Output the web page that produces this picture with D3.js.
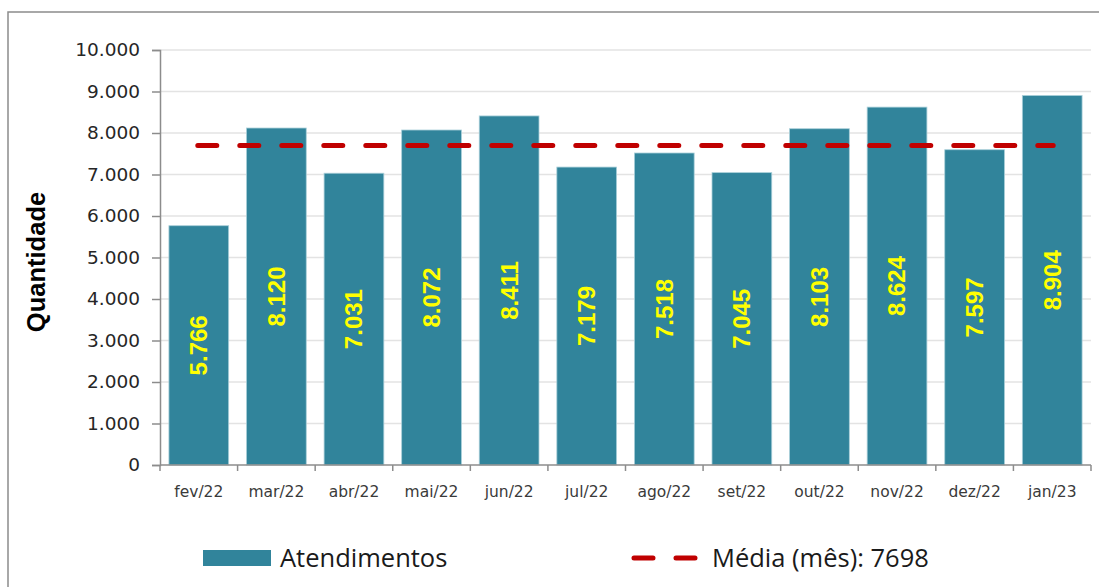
<!DOCTYPE html>
<html>
<head>
<meta charset="utf-8">
<script src="https://cdn.jsdelivr.net/npm/d3@7"></script>
<style>
  body { margin: 0; background: #fff; overflow: hidden; }
  svg { display: block; }
</style>
</head>
<body>
<div id="chart"></div>
<script>
/* data */
const months = ['fev/22', 'mar/22', 'abr/22', 'mai/22', 'jun/22', 'jul/22',
  'ago/22', 'set/22', 'out/22', 'nov/22', 'dez/22', 'jan/23']
const atendimentos = [5766, 8120, 7031, 8072, 8411, 7179, 7518, 7045, 8103, 8624, 7597, 8904]
const media = 7698
const yTicks = [0, 1000, 2000, 3000, 4000, 5000, 6000, 7000, 8000, 9000, 10000]
const legendLabels = ['Atendimentos', 'Média (mês): 7698']

/* dimensions */
const W = 1099
const H = 587
const plot = { left: 160, right: 1091, top: 50, bottom: 465 }

const barColor = '#31849b'
const lineColor = '#c00000'

const ptBR = d3.formatLocale({ decimal: ',', thousands: '.', grouping: [3], currency: ['R$', ''] })
const fmt = ptBR.format(',d')

const svg = d3.select('#chart').append('svg')
  .attr('width', W).attr('height', H)

/* outer frame (runs off the right and bottom edges) */
svg.append('rect')
  .attr('x', 8).attr('y', 12)
  .attr('width', W + 20).attr('height', H + 20)
  .attr('fill', '#fff')
  .attr('stroke', '#8c8c8c').attr('stroke-width', 1.5)

/* scales */
const x = d3.scaleBand()
  .domain(months)
  .range([plot.left, plot.right])
  .paddingInner(0.23).paddingOuter(0.115)

const xBand = d3.scaleBand().domain(months).range([plot.left, plot.right])

const y = d3.scaleLinear().domain([0, 10000]).range([plot.bottom, plot.top])

/* gridlines */
svg.append('g')
  .selectAll('line')
  .data(yTicks.filter(d => d > 0))
  .join('line')
  .attr('x1', plot.left).attr('x2', plot.right)
  .attr('y1', d => y(d)).attr('y2', d => y(d))
  .attr('stroke', '#e3e3e3').attr('stroke-width', 1.5)

/* bars */
svg.append('g')
  .selectAll('rect')
  .data(atendimentos)
  .join('rect')
  .attr('x', (d, i) => x(months[i]))
  .attr('width', x.bandwidth())
  .attr('y', d => y(d))
  .attr('height', d => y(0) - y(d))
  .attr('fill', barColor)
  .attr('stroke', '#a9cfd9').attr('stroke-width', 0.8)

/* average line */
svg.append('line')
  .attr('x1', xBand(months[0]) + xBand.bandwidth() / 2 - 1)
  .attr('x2', xBand(months[months.length - 1]) + xBand.bandwidth() / 2 + 1)
  .attr('y1', y(media)).attr('y2', y(media))
  .attr('stroke', lineColor).attr('stroke-width', 5)
  .attr('stroke-linecap', 'round')
  .attr('stroke-dasharray', '19,23')

/* y axis */
const yAxis = d3.axisLeft(y)
  .tickValues(yTicks)
  .tickSize(8)
  .tickPadding(12)
  .tickFormat(fmt)

svg.append('g')
  .attr('transform', `translate(${plot.left},0)`)
  .call(yAxis)
  .call(g => g.select('.domain').attr('stroke', '#8c8c8c').attr('stroke-width', 1.5))
  .call(g => g.selectAll('.tick line').attr('stroke', '#8c8c8c').attr('stroke-width', 1.5))
  .call(g => g.selectAll('.tick text')
    .attr('font-family', 'DejaVu Sans').attr('font-size', 18.5)
    .attr('fill', '#262626'))

/* x axis: ticks at band boundaries */
svg.append('g')
  .attr('transform', `translate(0,${plot.bottom})`)
  .call(d3.axisBottom(xBand).tickSize(0).tickPadding(21))
  .call(g => g.select('.domain').remove())
  .call(g => g.selectAll('.tick text')
    .attr('font-family', 'DejaVu Sans').attr('font-size', 15.5)
    .attr('fill', '#3a3a3a'))

const xEdges = months.map(m => xBand(m)).concat([plot.right])
svg.append('g')
  .selectAll('line')
  .data(xEdges)
  .join('line')
  .attr('x1', d => d).attr('x2', d => d)
  .attr('y1', plot.bottom).attr('y2', plot.bottom + 6)
  .attr('stroke', '#8c8c8c').attr('stroke-width', 1.5)

svg.append('line')
  .attr('x1', plot.left).attr('x2', plot.right)
  .attr('y1', plot.bottom).attr('y2', plot.bottom)
  .attr('stroke', '#8c8c8c').attr('stroke-width', 1.5)

/* data labels, rotated, centred in each bar */
svg.append('g')
  .selectAll('text')
  .data(atendimentos)
  .join('text')
  .attr('transform', (d, i) =>
    `translate(${x(months[i]) + x.bandwidth() / 2},${(y(d) + y(0)) / 2}) rotate(-90)`)
  .attr('text-anchor', 'middle')
  .attr('dy', '0.35em')
  .attr('font-family', 'Liberation Sans').attr('font-weight', 'bold')
  .attr('font-size', 24)
  .attr('fill', '#ffff00')
  .text(d => fmt(d))

/* y axis title */
svg.append('text')
  .attr('transform', 'translate(36,262) rotate(-90)')
  .attr('text-anchor', 'middle')
  .attr('dy', '0.35em')
  .attr('font-family', 'Liberation Sans').attr('font-weight', 'bold')
  .attr('font-size', 25.5)
  .attr('fill', '#000')
  .text('Quantidade')

/* legend */
const leg = svg.append('g').attr('font-family', 'Open Sans').attr('font-size', 25.5).attr('fill', '#1a1a1a')

leg.append('rect')
  .attr('x', 203).attr('y', 550).attr('width', 68).attr('height', 16)
  .attr('fill', barColor)
leg.append('text')
  .attr('x', 280).attr('y', 558).attr('dy', '0.35em')
  .text(legendLabels[0])

leg.append('line')
  .attr('x1', 634).attr('x2', 696)
  .attr('y1', 558).attr('y2', 558)
  .attr('stroke', lineColor).attr('stroke-width', 5)
  .attr('stroke-linecap', 'round')
  .attr('stroke-dasharray', '19,23')
leg.append('text')
  .attr('x', 712).attr('y', 558).attr('dy', '0.35em')
  .text(legendLabels[1])
</script>
</body>
</html>
